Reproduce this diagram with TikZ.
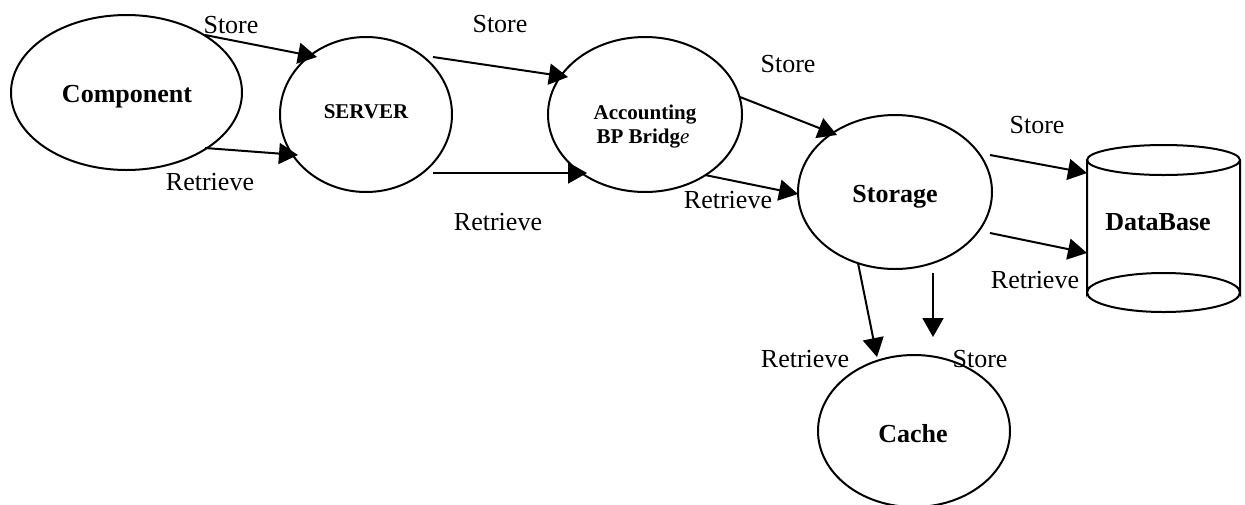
\documentclass[tikz,border=0pt]{standalone}
\usepackage{fontspec}
\setmainfont{Liberation Serif}
\usetikzlibrary{arrows.meta,shapes.geometric}
\begin{document}
\begin{tikzpicture}[x=1pt,y=-1pt,
  ell/.style={draw,line width=2pt,ellipse,inner sep=0pt},
  conn/.style={line width=2pt,-{Triangle[length=19pt,width=21pt]}},
  lbl/.style={font=\fontsize{26}{30}\selectfont,inner sep=0pt,anchor=base},
  big/.style={font=\fontsize{26}{30}\selectfont\bfseries,inner sep=0pt,anchor=base},
  small/.style={font=\fontsize{21}{25}\selectfont\bfseries,inner sep=0pt,anchor=base,align=center}]
\useasboundingbox (0,0) rectangle (1245,504);
% ellipses
\node[ell,minimum width=231pt,minimum height=155pt] (comp) at (126.5,92.5) {};
\node[ell,minimum width=172pt,minimum height=155pt] (serv) at (366,114.5) {};
\node[ell,minimum width=194pt,minimum height=155pt] (acc) at (645,114.5) {};
\node[ell,minimum width=194pt,minimum height=154pt] (stor) at (895,192) {};
\node[ell,minimum width=192pt,minimum height=152pt] (cache) at (914,431) {};
% cylinder
\draw[line width=2pt] (1087,160) -- (1087,292.5) arc[start angle=180,end angle=360,x radius=76.5,y radius=19.5] -- (1240,160);
\draw[line width=2pt] (1163.5,160) ellipse[x radius=76.5,y radius=15];
\draw[line width=2pt] (1087,292.5) arc[start angle=180,end angle=0,x radius=76.5,y radius=19.5];
\coordinate (db) at (1163.5,226);
% texts
\node[big] (compT) at (127,102) {Component};
\node[small] (servT) at (366,118) {SERVER};
\node[small] (accT1) at (645,119) {Accounting};
\node[small] (accT2) at (643,143) {BP Bridg\textmd{\textit{e}}};
\node[big] (storT) at (895,202) {Storage};
\node[big] (cacheT) at (913,442) {Cache};
\node[big] (dbT) at (1158,230) {DataBase};
% connector end points
\coordinate (a1) at (205,35);   \coordinate (a2) at (317,57);
\coordinate (b1) at (205,148);  \coordinate (b2) at (298,155);
\coordinate (c1) at (433,57);   \coordinate (c2) at (568,77);
\coordinate (d1) at (433,173);  \coordinate (d2) at (587,173);
\coordinate (e1) at (740,97);   \coordinate (e2) at (837,135);
\coordinate (f1) at (705,175);  \coordinate (f2) at (798,194);
\coordinate (g1) at (990,155);  \coordinate (g2) at (1087,173);
\coordinate (h1) at (990,233);  \coordinate (h2) at (1087,253);
\coordinate (i1) at (858,263);  \coordinate (i2) at (877,357);
\coordinate (j1) at (933,273);  \coordinate (j2) at (933,337);
\draw[conn] (a1) -- (a2);
\draw[conn] (b1) -- (b2);
\draw[conn] (c1) -- (c2);
\draw[conn] (d1) -- (d2);
\draw[conn] (e1) -- (e2);
\draw[conn] (f1) -- (f2);
\draw[conn] (g1) -- (g2);
\draw[conn] (h1) -- (h2);
\draw[conn] (i1) -- (i2);
\draw[conn] (j1) -- (j2);
% labels
\node[lbl] (l1) at (231,33) {Store};
\node[lbl] (l2) at (210,190) {Retrieve};
\node[lbl] (l3) at (500,32) {Store};
\node[lbl] (l4) at (498,230) {Retrieve};
\node[lbl] (l5) at (788,72) {Store};
\node[lbl] (l6) at (728,208) {Retrieve};
\node[lbl] (l7) at (1037,133) {Store};
\node[lbl] (l8) at (1035,288) {Retrieve};
\node[lbl] (l9) at (805,367) {Retrieve};
\node[lbl] (l10) at (980,367) {Store};
\end{tikzpicture}
\end{document}
